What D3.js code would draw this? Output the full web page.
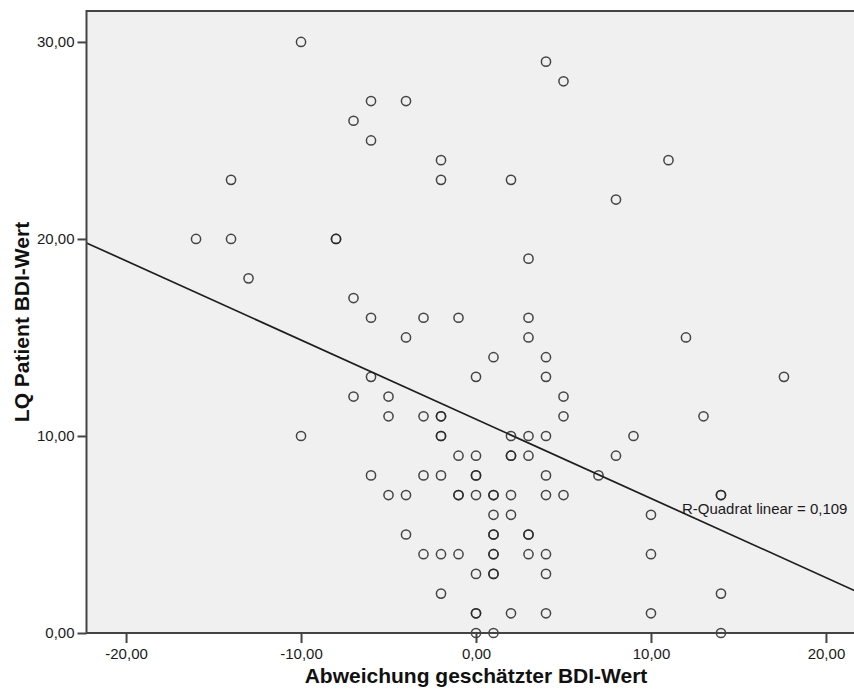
<!DOCTYPE html>
<html>
<head>
<meta charset="utf-8">
<script src="https://cdn.jsdelivr.net/npm/d3@7"></script>
<style>
  body { margin: 0; background: #ffffff; }
  svg { display: block; }
</style>
</head>
<body>
<div id="data-viz"></div>
<script>
// values (duplicates = darker circles)
const abweichung = [
    -10, 4, 5, -6, -4, -7, -6, -2, 11, -14, -2, 2, 8,
    -16, -14, -8, -8, 3, -13, -7,
    -6, -3, -1, 3, -4, 3, 12, 1, 4,
    -6, 0, 4, 17.6, -7, -5, 5,
    -5, -3, -2, -2, 5, 13,
    -10, -2, -2, 2, 3, 4, 9,
    -1, 0, 2, 2, 3, 8,
    -6, -3, -2, 0, 0, 4, 7,
    -5, -4, -1, -1, 0, 1, 1, 2, 4, 5, 14, 14,
    1, 2, 10,
    -4, 1, 1, 3, 3,
    -3, -2, -1, 1, 1, 3, 4, 10,
    0, 1, 1, 4,
    -2, 14,
    0, 0, 2, 4, 10,
    0, 1, 14
]
const lqPatient = [
    30, 29, 28, 27, 27, 26, 25, 24, 24, 23, 23, 23, 22,
    20, 20, 20, 20, 19, 18, 17,
    16, 16, 16, 16, 15, 15, 15, 14, 14,
    13, 13, 13, 13, 12, 12, 12,
    11, 11, 11, 11, 11, 11,
    10, 10, 10, 10, 10, 10, 10,
    9, 9, 9, 9, 9, 9,
    8, 8, 8, 8, 8, 8, 8,
    7, 7, 7, 7, 7, 7, 7, 7, 7, 7, 7, 7,
    6, 6, 6,
    5, 5, 5, 5, 5,
    4, 4, 4, 4, 4, 4, 4, 4,
    3, 3, 3, 3,
    2, 2,
    1, 1, 1, 1, 1,
    0, 0, 0
]
const xTicks = [-20, -10, 0, 10, 20]
const yTicks = [0, 10, 20, 30]
const xDomain = [-22.26, 22.26]
const yDomain = [0, 31.57]

// linear fit as printed by SPSS
const fitIntercept = 10.85
const fitSlope = -0.402
const fitLabel = "R-Quadrat linear = 0,109"

const xTitle = "Abweichung geschätzter BDI-Wert"
const yTitle = "LQ Patient BDI-Wert"

async function drawScatter() {

    // 1. Access data
    const dataset = abweichung.map((d, i) => ({x: d, y: lqPatient[i]}))
    const xAccessor = d => d.x
    const yAccessor = d => d.y

    // 2. Create chart dimensions
    let dimensions = {
        width: 854,
        height: 692,
        margin: {
            top: 11,
            right: -11.5,
            bottom: 59,
            left: 86.5,
        }
    }
    dimensions.boundedWidth = dimensions.width - dimensions.margin.left - dimensions.margin.right
    dimensions.boundedHeight = dimensions.height - dimensions.margin.top - dimensions.margin.bottom

    // 3. Draw canvas
    const wrapper = d3.select("#data-viz")
        .append("svg")
        .attr("width", dimensions.width)
        .attr("height", dimensions.height)

    const chart = wrapper.append("g")
        .attr("transform", `translate(${dimensions.margin.left}, ${dimensions.margin.top})`)

    // 4. Create scales
    const xScale = d3.scaleLinear()
        .domain(xDomain)
        .range([0, dimensions.boundedWidth])

    const yScale = d3.scaleLinear()
        .domain(yDomain)
        .range([dimensions.boundedHeight, 0])

    const fmt = v => d3.format(".2f")(v).replace(".", ",").replace("−", "-")

    chart.append("rect")
        .attr("width", dimensions.boundedWidth)
        .attr("height", dimensions.boundedHeight)
        .attr("fill", "#f0f0f0")

    // 5. Draw data
    chart.append("g")
        .selectAll("circle")
        .data(dataset)
        .join("circle")
            .attr("cx", d => xScale(xAccessor(d)))
            .attr("cy", d => yScale(yAccessor(d)))
            .attr("r", 4.6)
            .attr("fill", "none")
            .attr("stroke", "#262626")
            .attr("stroke-opacity", 0.85)
            .attr("stroke-width", 1.5)

    const fitLine = d3.line()
        .x(d => xScale(d))
        .y(d => yScale(fitIntercept + fitSlope * d))

    chart.append("path")
        .datum(xDomain)
        .attr("d", fitLine)
        .attr("fill", "none")
        .attr("stroke", "#1e1e1e")
        .attr("stroke-width", 1.7)

    chart.append("text")
        .attr("x", xScale(11.77))
        .attr("y", yScale(6.05))
        .attr("font-family", "'Liberation Sans', Arial, sans-serif")
        .attr("font-size", 15)
        .attr("fill", "#1a1a1a")
        .text(fitLabel)

    // 6. Draw peripherals
    chart.append("rect")
        .attr("width", dimensions.boundedWidth)
        .attr("height", dimensions.boundedHeight)
        .attr("fill", "none")
        .attr("stroke", "#444444")
        .attr("stroke-width", 2)

    const xAxis = d3.axisBottom(xScale)
        .tickValues(xTicks)
        .tickFormat(fmt)
        .tickSize(10)
        .tickSizeOuter(0)
        .tickPadding(5)

    const xAxisGroup = chart.append("g")
        .attr("transform", `translate(0, ${dimensions.boundedHeight})`)
        .call(xAxis)

    const yAxis = d3.axisLeft(yScale)
        .tickValues(yTicks)
        .tickFormat(fmt)
        .tickSize(9)
        .tickSizeOuter(0)
        .tickPadding(3)

    const yAxisGroup = chart.append("g")
        .call(yAxis)

    ;[xAxisGroup, yAxisGroup].forEach(g => {
        g.select(".domain").remove()
        g.selectAll(".tick line")
            .attr("stroke", "#444444")
            .attr("stroke-width", 2)
        g.selectAll(".tick text")
            .attr("fill", "#1a1a1a")
            .attr("font-family", "'Liberation Sans', Arial, sans-serif")
            .attr("font-size", 15)
    })

    chart.append("text")
        .attr("x", xScale(0))
        .attr("y", dimensions.boundedHeight + 50)
        .attr("text-anchor", "middle")
        .attr("font-family", "'Liberation Sans', Arial, sans-serif")
        .attr("font-weight", "bold")
        .attr("font-size", 21)
        .attr("fill", "#111111")
        .text(xTitle)

    chart.append("text")
        .attr("transform", `translate(${-dimensions.margin.left + 29}, ${dimensions.boundedHeight / 2}) rotate(-90)`)
        .attr("text-anchor", "middle")
        .attr("font-family", "'Liberation Sans', Arial, sans-serif")
        .attr("font-weight", "bold")
        .attr("font-size", 21)
        .attr("fill", "#111111")
        .text(yTitle)
}

drawScatter()
</script>
</body>
</html>
